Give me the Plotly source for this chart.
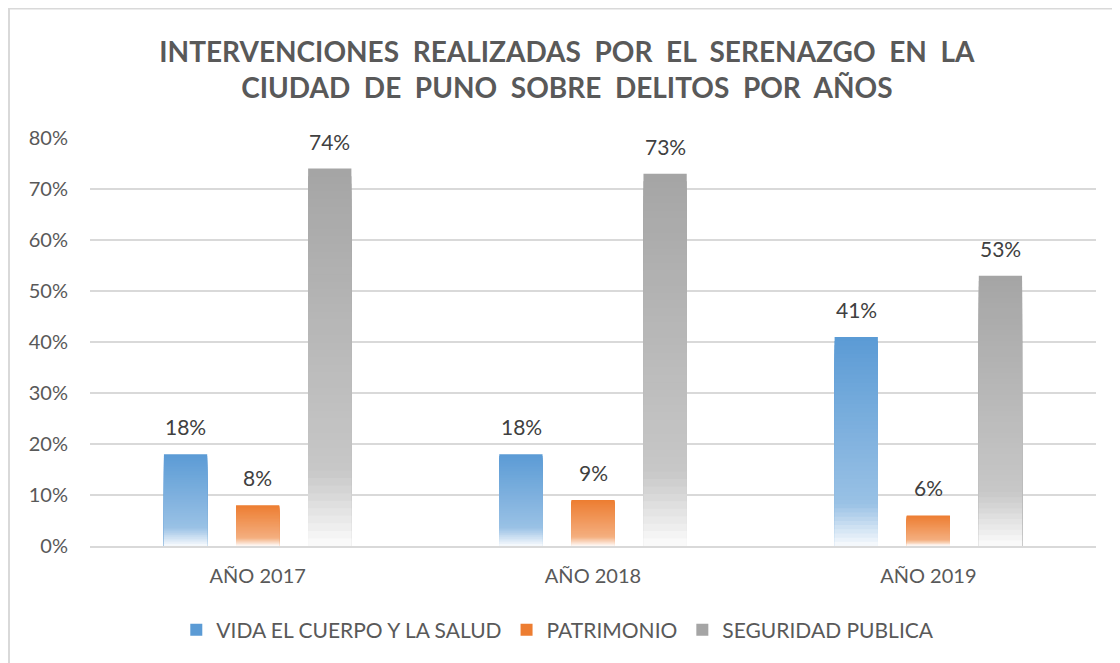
import plotly.graph_objects as go

categories = ["AÑO 2017", "AÑO 2018", "AÑO 2019"]
series_names = ["VIDA EL CUERPO Y LA SALUD", "PATRIMONIO", "SEGURIDAD PUBLICA"]
vida = [0.18, 0.18, 0.41]
patrimonio = [0.08, 0.09, 0.06]
seguridad = [0.74, 0.73, 0.53]
colors = ["#5B9BD5", "#ED7D31", "#A5A5A5"]
values = [vida, patrimonio, seguridad]

FONT = "Lato, 'Open Sans', sans-serif"
N = 50
SLOT_PX = 72  # pixel distance between bars within a group


def hex_to_rgb(h):
    h = h.lstrip("#")
    return tuple(int(h[i:i + 2], 16) for i in (0, 2, 4))


def grad_color(base, t):
    # t: 0 at top of bar, 1 at bottom
    if t < 0.8:
        w = 0.38 * t / 0.8
    else:
        w = 0.38 + (0.96 - 0.38) * (t - 0.8) / 0.2
    r, g, b = hex_to_rgb(base)
    return "rgb(%d,%d,%d)" % (round(r + (255 - r) * w), round(g + (255 - g) * w), round(b + (255 - b) * w))


fig = go.Figure()
annotations = []
for s, (name, vals, col) in enumerate(zip(series_names, values, colors)):
    for k in range(N):
        frac = 1 - k / N
        ys = [v * frac for v in vals]
        t = (k + 0.5) / N
        fig.add_trace(go.Bar(
            x=categories, y=ys, name=name,
            offsetgroup=str(s), legendgroup=name,
            showlegend=(k == 0),
            marker=dict(color=grad_color(col, t if k > 0 else 0.0), line=dict(width=0)),
            hoverinfo="skip" if k > 0 else None,
        ))
    for c, v in zip(categories, vals):
        annotations.append(dict(
            x=c, y=v, xref="x", yref="y", text=f"{round(v * 100)}%",
            showarrow=False, xanchor="center", yanchor="bottom",
            xshift=(s - 1) * SLOT_PX, yshift=13,
            font=dict(family=FONT, size=21, color="#404040"),
        ))

fig.update_layout(
    width=1120, height=663,
    paper_bgcolor="white", plot_bgcolor="white",
    margin=dict(l=82, r=32, t=130, b=125),
    barmode="group", bargap=0.355, bargroupgap=0.4,
    title=dict(
        text="<b>INTERVENCIONES  REALIZADAS  POR  EL  SERENAZGO  EN  LA<br>CIUDAD  DE  PUNO  SOBRE  DELITOS  POR  AÑOS</b>",
        x=0.499, xanchor="center", y=0.9193, yanchor="middle",
        font=dict(family=FONT, size=28, color="#595959"),
    ),
    font=dict(family=FONT, color="#595959"),
    legend=dict(
        orientation="h", x=0.465, xanchor="center", y=-0.206, yanchor="middle",
        font=dict(family=FONT, size=21, color="#595959"),
        itemclick=False, traceorder="normal",
    ),
    xaxis=dict(
        showline=True, linecolor="#D9D9D9", linewidth=1.5,
        tickfont=dict(family=FONT, size=20, color="#595959"),
        ticks="", showgrid=False, ticklabelstandoff=11,
    ),
    yaxis=dict(
        range=[0, 0.8], dtick=0.1, tickformat=".0%",
        showgrid=True, gridcolor="#D9D9D9", gridwidth=1.5,
        zeroline=False, showline=False,
        tickfont=dict(family=FONT, size=20, color="#595959"),
        ticklabelstandoff=21,
    ),
    annotations=annotations,
    shapes=[dict(type="rect", xref="paper", yref="paper",
                 x0=-0.0805, x1=1.05, y0=-0.35, y1=1.3174,
                 line=dict(color="#D9D9D9", width=2), fillcolor="rgba(0,0,0,0)", layer="below")],
)

fig.write_html("out.html")
